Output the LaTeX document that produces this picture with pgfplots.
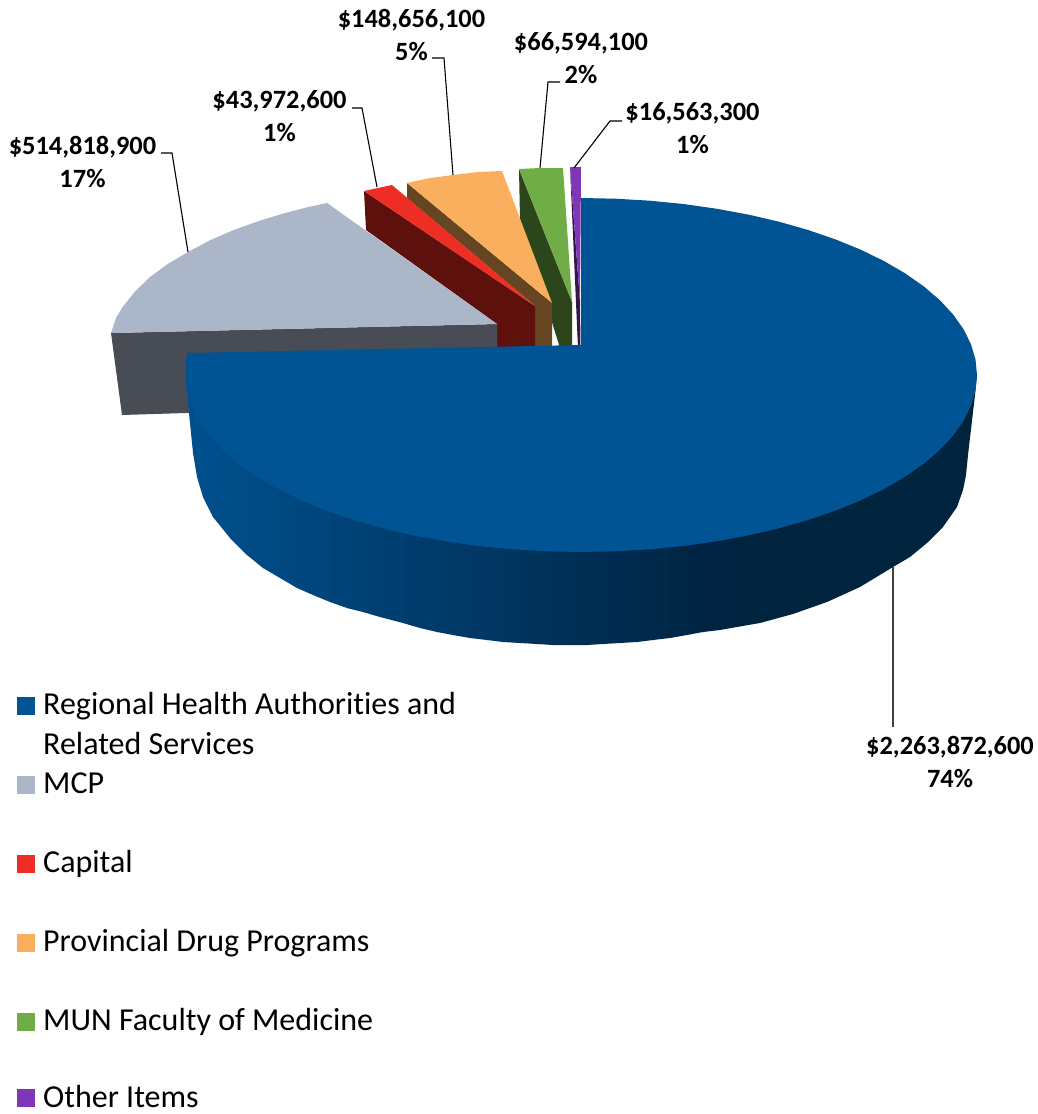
\documentclass[border=0pt]{standalone}
\usepackage{pgfplots}
\pgfplotsset{compat=1.18}
\usepackage{fontspec}
\setmainfont[Ligatures=NoCommon]{Carlito}
\definecolor{cBlue}{HTML}{005494}
\definecolor{cGray}{HTML}{ABB6C8}
\definecolor{cGrayD}{HTML}{484C54}
\definecolor{cRed}{HTML}{EE2E24}
\definecolor{cRedD}{HTML}{5E110C}
\definecolor{cOr}{HTML}{FAAF5F}
\definecolor{cOrD}{HTML}{654522}
\definecolor{cGr}{HTML}{70AD47}
\definecolor{cGrD}{HTML}{2D451B}
\definecolor{cPu}{HTML}{7F37B7}
\definecolor{cPuD}{HTML}{32184A}
\newcommand{\lgd}[2]{\begin{tabular}[t]{@{}l@{}}#1\\#2\end{tabular}}
\newcommand{\lgdone}[1]{\rule{0pt}{25pt}#1}
\newcommand{\strip}[3]{\addplot[fill={rgb,255:red,0;green,#1;blue,#2},draw=none,forget plot] coordinates {#3} --cycle;}
\newcommand{\lead}[1]{\addplot[black,line width=1.1pt,forget plot] coordinates {#1};}
\tikzset{lab/.style={align=center,font=\bfseries\fontsize{26.4}{33}\selectfont,inner sep=0pt}}
\begin{document}
\begin{tikzpicture}
\begin{axis}[
  scale only axis, width=1037pt, height=1114pt,
  xmin=0, xmax=1037, ymin=0, ymax=1114, y dir=reverse,
  axis line style={draw=none}, ticks=none, clip=false,
  reverse legend,
  legend image code/.code={\fill[#1] (0pt,0pt) rectangle (18pt,18pt);},
  legend style={at={(axis cs:17,687)}, anchor=north west, draw=none, fill=none,
    inner sep=0pt, row sep=0pt, column sep=8pt,
    nodes={inner sep=0pt, outer sep=0pt, text depth=},
    cells={anchor=base west},
    font=\fontsize{32}{39.5}\selectfont},
]
% Other Items
\addplot[fill=cPuD,draw=none,forget plot] coordinates {(570,167)(580,302)(580.5,348)(578,348)} --cycle;
\addplot[fill=cPu,draw=none] coordinates {(570,167)(581,167)(580,302)} --cycle;
\addlegendentry{\lgdone{Other Items}}
% MUN
\addplot[fill=cGrD,draw=none,forget plot] coordinates {(519,169)(572,302)(572,348)(560,348)(520,220)} --cycle;
\addplot[fill=cGr,draw=none] coordinates {(519,169)(540,168)(563,168)(572,302)} --cycle;
\addlegendentry{\lgd{MUN Faculty of Medicine}{~}}
% Drug
\addplot[fill=cOrD,draw=none,forget plot] coordinates {(407,183)(552,303)(552,348)(535,348)(535,306)(407,198)} --cycle;
\addplot[fill=cOr,draw=none] coordinates {(407,183)(430,178)(453,175)(478,172)(502,171)(552,303)} --cycle;
\addlegendentry{\lgd{Provincial Drug Programs}{~}}
% Capital
\addplot[fill=cRedD,draw=none,forget plot] coordinates {(364,191)(535,306)(535,348)(497,348)(497,324)(366,230)} --cycle;
\addplot[fill=cRed,draw=none] coordinates {(364,191)(392,185)(535,306)} --cycle;
\addlegendentry{\lgd{Capital}{~}}
% MCP
\addplot[fill=cGrayD,draw=none,forget plot] coordinates {(111,333)(497,324)(497,350)(250,360)(250,411)(122,415)} --cycle;
\addplot[fill=cGray,draw=none] coordinates {(327,203)(305,207.8)(283,213.6)(258,221.3)(233,230.3)(210,240.3)(188,252)(168,263.8)(150,277)(135,291.5)(123,306.5)(116,318)(111,333)(497,324)} --cycle;
\addlegendentry{\lgd{MCP}{~}}
% Regional: side strips, dark to the right
\strip{79}{141}{(186,375)(189,413)(193,453)(197,477)(203,497)(204,497)(204,375)}
\strip{78}{139}{(203,375)(203,497)(213,517)(214,517)(214,375)}
\strip{77}{137}{(213,375)(213,517)(230,538)(231,538)(231,375)}
\strip{76}{135}{(230,375)(230,538)(247,555)(248,555)(248,375)}
\strip{74}{132}{(247,375)(247,555)(263,568)(264,568)(264,375)}
\strip{73}{130}{(263,375)(263,568)(280,578)(281,578)(281,375)}
\strip{72}{128}{(280,375)(280,578)(297,588)(298,588)(298,375)}
\strip{70}{125}{(297,375)(297,588)(313,595)(314,595)(314,375)}
\strip{69}{123}{(313,375)(313,595)(330,602)(331,602)(331,375)}
\strip{67}{120}{(330,375)(330,602)(347,608)(348,608)(348,375)}
\strip{66}{118}{(347,375)(347,608)(363,612)(364,612)(364,375)}
\strip{65}{115}{(363,375)(363,612)(380,617)(381,617)(381,375)}
\strip{63}{112}{(380,375)(380,617)(403,623)(404,623)(404,375)}
\strip{61}{110}{(403,375)(403,623)(420,628)(421,628)(421,375)}
\strip{60}{107}{(420,375)(420,628)(437,632)(438,632)(438,375)}
\strip{58}{105}{(437,375)(437,632)(453,635)(454,635)(454,375)}
\strip{57}{102}{(453,375)(453,635)(470,638)(471,638)(471,375)}
\strip{55}{100}{(470,375)(470,638)(487,640)(488,640)(488,375)}
\strip{54}{97}{(487,375)(487,640)(503,642)(504,642)(504,375)}
\strip{53}{95}{(503,375)(503,642)(520,643)(521,643)(521,375)}
\strip{51}{92}{(520,375)(520,643)(537,644)(538,644)(538,375)}
\strip{50}{90}{(537,375)(537,644)(553,645)(554,645)(554,375)}
\strip{48}{87}{(553,375)(553,645)(570,645)(571,645)(571,375)}
\strip{47}{85}{(570,375)(570,645)(587,645)(588,645)(588,375)}
\strip{46}{82}{(587,375)(587,645)(603,644)(604,644)(604,375)}
\strip{44}{80}{(603,375)(603,644)(620,643)(621,643)(621,375)}
\strip{43}{78}{(620,375)(620,643)(637,642)(638,642)(638,375)}
\strip{41}{75}{(637,375)(637,642)(653,640)(654,640)(654,375)}
\strip{40}{73}{(653,375)(653,640)(670,638)(671,638)(671,375)}
\strip{38}{70}{(670,375)(670,638)(687,635)(688,635)(688,375)}
\strip{37}{68}{(687,375)(687,635)(703,632)(704,632)(704,375)}
\strip{36}{65}{(703,375)(703,632)(720,630)(737,627)(738,627)(738,375)}
\strip{35}{62}{(737,375)(737,627)(760,623)(793,614)(827,602)(860,587)(893,567)(910,557)(927,543)(943,527)(957,507)(963,490)(966,475)(968,455)(975,395)(977,375)}
% Regional: top face
\addplot[fill=cBlue,draw=none] coordinates {
(581,345)(581,198)(615.5,198.7)(649.8,200.7)(683.5,204)(716.4,208.7)(748.4,214.6)(779,221.7)(808.1,230)(835.5,239.4)(861,249.8)(884.3,261.2)(905.4,273.5)(923.9,286.5)(939.9,300.2)(953.1,314.5)(963.5,329.2)(971,344.3)(975.5,359.6)(977,375)
(975.5,390.4)(971,405.7)(963.5,420.8)(953.1,435.5)(939.9,449.8)(923.9,463.5)(905.4,476.5)(884.3,488.8)(861,500.2)(835.5,510.6)(808.1,520)(779,528.3)(748.4,535.4)(716.4,541.3)(683.5,546)(649.8,549.3)(615.5,551.3)(581,552)
(546.5,551.3)(512.2,549.3)(478.5,546)(445.6,541.3)(413.6,535.4)(383,528.3)(353.9,520)(326.5,510.6)(301,500.2)(277.7,488.8)(256.6,476.5)(238.1,463.5)(222.1,449.8)(208.9,435.5)(198.5,420.8)(191,405.7)(186.5,390.4)(185,375)(187,353)} --cycle;
\addlegendentry{\lgd{Regional Health Authorities and}{Related Services}}
% leader lines
\lead{(161,153)(172,153)(188,252)}
\lead{(352,108)(362,108)(377,187)}
\lead{(432,58)(444,58)(453,175)}
\lead{(560,82)(548,82)(540,168)}
\lead{(622,121)(610,121)(574,168)}
\addplot[black!75,line width=1.3pt,forget plot] coordinates {(893,567)(893,727)};
% labels
\node[lab] at (axis cs:82.5,161.5) {\$514,818,900\\17\%};
\node[lab] at (axis cs:279.5,116.5) {\$43,972,600\\1\%};
\node[lab] at (axis cs:411.5,34.5) {\$148,656,100\\5\%};
\node[lab] at (axis cs:581,58.5) {\$66,594,100\\2\%};
\node[lab] at (axis cs:692.5,128.5) {\$16,563,300\\1\%};
\node[lab] at (axis cs:950,761.5) {\$2,263,872,600\\74\%};
\end{axis}
\pgfresetboundingbox
\path[use as bounding box] (0,0) rectangle (1037pt,1114pt);
\end{tikzpicture}
\end{document}
